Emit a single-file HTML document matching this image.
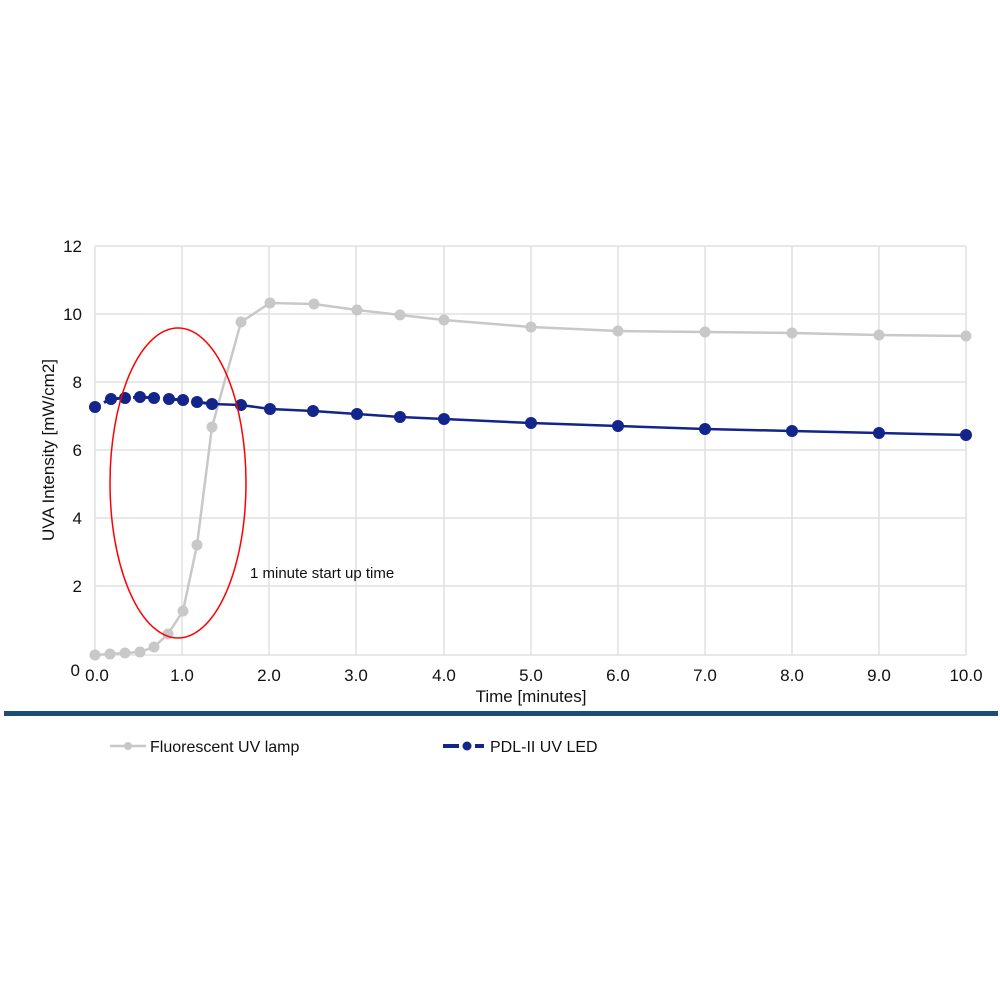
<!DOCTYPE html>
<html><head><style>body{margin:0;background:#fff}svg{display:block}text{font-family:"Liberation Sans",Arial,sans-serif;fill:#111}</style></head><body>
<svg width="1000" height="1000" viewBox="0 0 1000 1000">
<g stroke="#e0e0e0" stroke-width="1.5" fill="none">
<path d="M95 246H966M95 314H966M95 382H966M95 450H966M95 518H966M95 586H966M95 655H966"/>
<path d="M95 246V655M182 246V655M269 246V655M356 246V655M444 246V655M531 246V655M618 246V655M705 246V655M792 246V655M879 246V655M966 246V655"/>
</g>
<g font-size="17" text-anchor="end">
<text x="82" y="252">12</text><text x="82" y="320">10</text><text x="82" y="388">8</text><text x="82" y="456">6</text><text x="82" y="524">4</text><text x="82" y="592">2</text><text x="80" y="676">0</text>
</g>
<g font-size="17" text-anchor="middle">
<text x="97" y="681">0.0</text><text x="182" y="681">1.0</text><text x="269" y="681">2.0</text><text x="356" y="681">3.0</text><text x="444" y="681">4.0</text><text x="531" y="681">5.0</text><text x="618" y="681">6.0</text><text x="705" y="681">7.0</text><text x="792" y="681">8.0</text><text x="879" y="681">9.0</text><text x="966" y="681">10.0</text>
<text x="531" y="702">Time [minutes]</text>
<text transform="translate(54,450) rotate(-90)">UVA Intensity [mW/cm2]</text>
</g>
<text x="250" y="578" font-size="15">1 minute start up time</text>
<polyline fill="none" stroke="#c8c8c8" stroke-width="2.5" points="95,655 110,654 125,653 140,652 154,647 168,634 183,611 197,545 212,427 241,322 270,303 314,304 357,310 400,315 444,320 531,327 618,331 705,332 792,333 879,335 966,336"/>
<g fill="#c8c8c8">
<circle cx="95" cy="655" r="5.5"/><circle cx="110" cy="654" r="5.5"/><circle cx="125" cy="653" r="5.5"/><circle cx="140" cy="652" r="5.5"/><circle cx="154" cy="647" r="5.5"/><circle cx="168" cy="634" r="5.5"/><circle cx="183" cy="611" r="5.5"/><circle cx="197" cy="545" r="5.5"/><circle cx="212" cy="427" r="5.5"/><circle cx="241" cy="322" r="5.5"/><circle cx="270" cy="303" r="5.5"/><circle cx="314" cy="304" r="5.5"/><circle cx="357" cy="310" r="5.5"/><circle cx="400" cy="315" r="5.5"/><circle cx="444" cy="320" r="5.5"/><circle cx="531" cy="327" r="5.5"/><circle cx="618" cy="331" r="5.5"/><circle cx="705" cy="332" r="5.5"/><circle cx="792" cy="333" r="5.5"/><circle cx="879" cy="335" r="5.5"/><circle cx="966" cy="336" r="5.5"/>
</g>
<polyline fill="none" stroke="#13248a" stroke-width="3" stroke-dasharray="6 4" points="95,407 111,399 125,398 140,397 154,398 169,399 183,400 197,402 212,404"/>
<polyline fill="none" stroke="#13248a" stroke-width="2.5" points="212,404 241,405 270,409 313,411 357,414 400,417 444,419 531,423 618,426 705,429 792,431 879,433 966,435"/>
<g fill="#13248a">
<circle cx="95" cy="407" r="6"/><circle cx="111" cy="399" r="6"/><circle cx="125" cy="398" r="6"/><circle cx="140" cy="397" r="6"/><circle cx="154" cy="398" r="6"/><circle cx="169" cy="399" r="6"/><circle cx="183" cy="400" r="6"/><circle cx="197" cy="402" r="6"/><circle cx="212" cy="404" r="6"/><circle cx="241" cy="405" r="6"/><circle cx="270" cy="409" r="6"/><circle cx="313" cy="411" r="6"/><circle cx="357" cy="414" r="6"/><circle cx="400" cy="417" r="6"/><circle cx="444" cy="419" r="6"/><circle cx="531" cy="423" r="6"/><circle cx="618" cy="426" r="6"/><circle cx="705" cy="429" r="6"/><circle cx="792" cy="431" r="6"/><circle cx="879" cy="433" r="6"/><circle cx="966" cy="435" r="6"/>
</g>
<ellipse cx="178" cy="483" rx="68" ry="155" fill="none" stroke="#ff0000" stroke-width="1.5"/>
<rect x="4" y="711" width="994" height="5" fill="#1a4f73"/>
<line x1="110" y1="746" x2="146" y2="746" stroke="#c8c8c8" stroke-width="2.5"/>
<circle cx="128" cy="746" r="4" fill="#c8c8c8"/>
<text x="150" y="752" font-size="16">Fluorescent UV lamp</text>
<line x1="443" y1="746" x2="459" y2="746" stroke="#13248a" stroke-width="4"/>
<line x1="475" y1="746" x2="484" y2="746" stroke="#13248a" stroke-width="4"/>
<circle cx="467" cy="746" r="4.5" fill="#13248a"/>
<text x="490" y="752" font-size="16">PDL-II UV LED</text>
</svg>
</body></html>
